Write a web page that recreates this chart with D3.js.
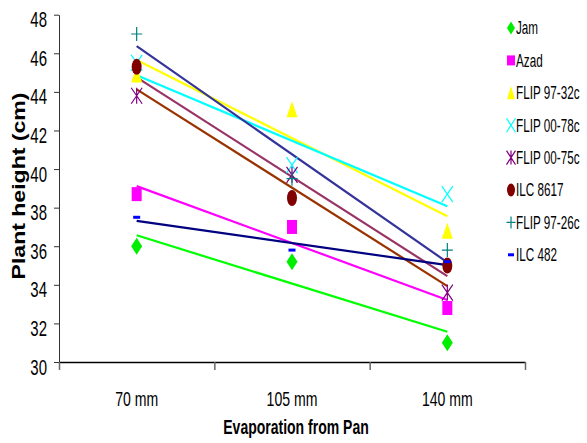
<!DOCTYPE html>
<html><head><meta charset="utf-8">
<script src="https://cdn.jsdelivr.net/npm/d3@7"></script>
<style>
body{margin:0;background:#fff;}
svg{display:block;}
text{font-family:"Liberation Sans",Arial,sans-serif;}
</style>
</head><body>
<svg id="c" width="587" height="443"></svg>
<script>
const categories = ["70 mm","105 mm","140 mm"];
const yTicks = [30,32,34,36,38,40,42,44,46,48];
const seriesNames = ["Jam","Azad","FLIP 97-32c","FLIP 00-78c","FLIP 00-75c","ILC 8617","FLIP 97-26c","ILC 482"];
const jam      = [36.0, 35.2, 31.0];
const azad     = [38.7, 37.0, 32.8];
const flip9732 = [44.9, 43.1, 36.8];
const flip0078 = [45.5, 40.2, 38.7];
const flip0075 = [43.8, 39.7, 33.6];
const ilc8617  = [45.3, 38.5, 35.0];
const flip9726 = [47.0, 39.5, 35.8];
const ilc482   = [37.5, 35.8, 35.2];
const seriesValues = [jam, azad, flip9732, flip0078, flip0075, ilc8617, flip9726, ilc482];
const markerColors = ["#00ee00","#ff00ff","#ffff00","#00ffff","#800080","#800000","#008080","#0000ff"];
const lineColors   = ["#00ff00","#ff00ff","#ffff00","#00ffff","#993300","#993366","#333399","#000080"];
const shapes = ["diamond","square","triangle","x","star","circle","plus","dash"];

(function(){
const svg = d3.select("#c");
const mL = 59, mR = 525, mT = 14.7, mB = 362;
const y = d3.scaleLinear().domain([30,48]).range([mB, mT]);
const xb = d3.scaleBand().domain(categories).range([mL, mR]);
const xc = c => xb(c) + xb.bandwidth()/2;
const xl = d3.scaleLinear().domain([0,3]).range([mL, mR]);

// horizontally condense text to match the narrow, tall font in the reference
function squeeze(sel, factor){
  sel.each(function(){
    const w = this.getComputedTextLength();
    d3.select(this).attr("textLength", w*factor).attr("lengthAdjust","spacingAndGlyphs");
  });
}

function markerPath(shape, w, h){
  const a = w/2, b = h/2;
  switch(shape){
    case "diamond": return `M0,${-b}L${a},0L0,${b}L${-a},0Z`;
    case "square": return `M${-a},${-b}H${a}V${b}H${-a}Z`;
    case "triangle": return `M0,${-b}L${a},${b}L${-a},${b}Z`;
    case "x": return `M${-a},${-b}L${a},${b}M${a},${-b}L${-a},${b}`;
    case "star": return `M${-a},${-b}L${a},${b}M${a},${-b}L${-a},${b}M0,${-b}V${b}`;
    case "plus": return `M${-a},0H${a}M0,${-b}V${b}`;
    case "dash": return `M${-a},${-b}H${a}V${b}H${-a}Z`;
    case "circle": return `M${-a},0A${a},${b} 0 1,0 ${a},0A${a},${b} 0 1,0 ${-a},0Z`;
  }
}
const filled = s => !(s==="x"||s==="star"||s==="plus");
function drawMarker(g, shape, color, cx, cy, w, h){
  const p = g.append("path").attr("transform",`translate(${cx},${cy})`).attr("d", markerPath(shape,w,h));
  if(filled(shape)) p.attr("fill",color).attr("stroke","none");
  else p.attr("fill","none").attr("stroke",color).attr("stroke-width",1.2);
}
const sizes = {diamond:[11,17],square:[10,14],triangle:[11,16],x:[11,16],star:[11,16],circle:[10,16],plus:[11,14],dash:[7,3]};
const lsizes = {diamond:[8,13],square:[8,10],triangle:[8,13],x:[9,14],star:[9,14],circle:[8,13],plus:[9,12],dash:[6,3]};

const yAxis = svg.append("g").attr("transform",`translate(${mL},0)`)
  .call(d3.axisLeft(y).tickValues(yTicks).tickSize(5).tickSizeOuter(0).tickPadding(7));
yAxis.select(".domain").attr("stroke","#333");
yAxis.selectAll(".tick line").attr("stroke","#333");
yAxis.selectAll("text").attr("font-family","Liberation Sans, Arial, sans-serif")
  .attr("font-size",22).attr("fill","#000").attr("dy","0.55em").call(squeeze,0.68);

const xAxisTicks = svg.append("g").attr("transform",`translate(0,${mB})`)
  .call(d3.axisBottom(xl).tickValues([0,1,2,3]).tickFormat("").tickSize(8).tickSizeOuter(0));
xAxisTicks.select(".domain").attr("stroke","#000").attr("stroke-width",1.5);
xAxisTicks.selectAll(".tick line").attr("stroke","#666").attr("stroke-width",1.5);

const xAxisLabels = svg.append("g").attr("transform",`translate(0,${mB})`)
  .call(d3.axisBottom(xb).tickSize(0).tickPadding(29));
xAxisLabels.select(".domain").remove();
xAxisLabels.selectAll("text").attr("font-family","Liberation Sans, Arial, sans-serif")
  .attr("font-size",21).attr("fill","#000").call(squeeze,0.67);

svg.append("text").attr("x",(mL+mR)/2 + 4).attr("y",434)
  .attr("text-anchor","middle").attr("font-weight","bold").attr("font-size",20)
  .text("Evaporation from Pan").call(squeeze,0.7);
svg.append("text").attr("transform","translate(25,186) rotate(-90)")
  .attr("text-anchor","middle").attr("font-weight","bold").attr("font-size",18)
  .text("Plant height (cm)").call(squeeze,1.28);

const plot = svg.append("g");
seriesValues.forEach((vals,i)=>{
  const xs = vals.map((v,k)=>k);
  const mx = d3.mean(xs), my = d3.mean(vals);
  const slope = d3.sum(xs.map((xv,k)=>(xv-mx)*(vals[k]-my))) / d3.sum(xs.map(xv=>(xv-mx)**2));
  const icpt = my - slope*mx;
  const fit = k => icpt + slope*k;
  plot.append("line")
    .attr("x1", xc(categories[0])).attr("y1", y(fit(0)))
    .attr("x2", xc(categories[categories.length-1])).attr("y2", y(fit(categories.length-1)))
    .attr("stroke", lineColors[i]).attr("stroke-width",2.2);
});
seriesValues.forEach((vals,i)=>{
  vals.forEach((v,k)=>{
    const s = sizes[shapes[i]];
    drawMarker(plot, shapes[i], markerColors[i], xc(categories[k]), y(v), s[0], s[1]);
  });
});

const leg = svg.append("g");
seriesNames.forEach((n,i)=>{
  const yy = 28 + i*32.4;
  const s = lsizes[shapes[i]];
  drawMarker(leg, shapes[i], markerColors[i], 511, yy, s[0], s[1]);
  leg.append("text").attr("transform",`translate(516,${yy}) scale(0.65,1)`).attr("dy","0.36em")
    .attr("font-size",18).attr("fill","#000").text(n);
});
})();
</script>
</body></html>
